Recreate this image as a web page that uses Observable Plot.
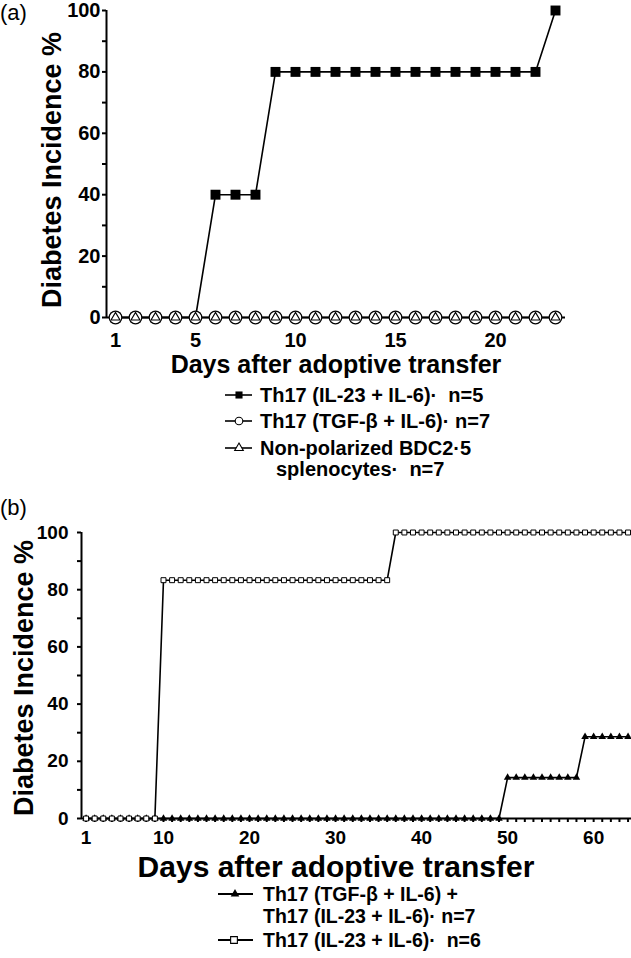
<!DOCTYPE html>
<html><head><meta charset="utf-8">
<script src="https://cdn.jsdelivr.net/npm/d3@7"></script>
<script src="https://cdn.jsdelivr.net/npm/@observablehq/plot@0.6"></script>
<style>
body{margin:0;background:#fff;}
#root{position:relative;width:631px;height:958px;overflow:hidden;background:#fff;}
#root svg.plot{position:absolute;left:0;}
#overlay{position:absolute;left:0;top:0;pointer-events:none;}
</style></head><body><div id="root"></div>
<script>
// ---------- Data: panel (a) ----------
const daysA = [1,2,3,4,5,6,7,8,9,10,11,12,13,14,15,16,17,18,19,20,21,22,23];
const th17IL23_A = [0,0,0,0,0,40,40,40,80,80,80,80,80,80,80,80,80,80,80,80,80,80,100];
const th17TGF_A  = [0,0,0,0,0,0,0,0,0,0,0,0,0,0,0,0,0,0,0,0,0,0,0];
const nonPol_A   = [0,0,0,0,0,0,0,0,0,0,0,0,0,0,0,0,0,0,0,0,0,0,0];
const xTickLabelsA = [1,5,10,15,20];
const xDomainA = [0.55,23.5];

// ---------- Data: panel (b) ----------
const daysB = [1,2,3,4,5,6,7,8,9,10,11,12,13,14,15,16,17,18,19,20,21,22,23,24,25,26,27,28,29,30,31,32,
  33,34,35,36,37,38,39,40,41,42,43,44,45,46,47,48,49,50,51,52,53,54,55,56,57,58,59,60,61,62,63,64];
const mix_B = [0,0,0,0,0,0,0,0,0,0,0,0,0,0,0,0,0,0,0,0,0,0,0,0,0,0,0,0,0,0,0,0,
  0,0,0,0,0,0,0,0,0,0,0,0,0,0,0,0,0,14.29,14.29,14.29,14.29,14.29,14.29,14.29,14.29,14.29,
  28.57,28.57,28.57,28.57,28.57,28.57];
const th17IL23_B = [0,0,0,0,0,0,0,0,0,83.33,83.33,83.33,83.33,83.33,83.33,83.33,83.33,83.33,83.33,83.33,
  83.33,83.33,83.33,83.33,83.33,83.33,83.33,83.33,83.33,83.33,83.33,83.33,83.33,83.33,83.33,83.33,
  100,100,100,100,100,100,100,100,100,100,100,100,100,100,100,100,100,100,100,100,100,100,100,100,100,100,100,100];
const xTickLabelsB = [1,10,20,30,40,50,60];
const xDomainB = [0.47,64.4];

const yDomain = [0,100];
const yMajor = [0,20,40,60,80,100];
const yAll = [0,10,20,30,40,50,60,70,80,90,100];

const legendA = ["Th17 (IL-23 + IL-6)·\u00a0\u00a0n=5", "Th17 (TGF-β + IL-6)·\u00a0n=7", "Non-polarized BDC2·5", "splenocytes·\u00a0\u00a0n=7"];
const legendB = ["Th17 (TGF-β + IL-6) +", "Th17 (IL-23 + IL-6)·\u00a0n=7", "Th17 (IL-23 + IL-6)·\u00a0\u00a0n=6"];

const FONT = "'Liberation Sans', Arial, Helvetica, sans-serif";
const NARROW = "'Liberation Sans Narrow', 'Arial Narrow', 'Liberation Sans', sans-serif";

const tidy = (days, vals) => days.map((d,i)=>({day:d, v:vals[i]}));

function axes(xDomain, xTicks, xLabels, lblPadX, lblPadY, fs) {
  return [
    Plot.axisY({ticks: yAll, tickSize: 4, text: null, label: null, strokeWidth: 2}),
    Plot.axisY({ticks: yMajor, tickSize: 0, tickPadding: lblPadY, label: null, fontSize: fs, fontWeight: "bold"}),
    Plot.axisX({ticks: xTicks, tickSize: 4, text: null, label: null, strokeWidth: 2}),
    Plot.axisX({ticks: xLabels, tickSize: 0, tickPadding: lblPadX, label: null, fontSize: fs, fontWeight: "bold"}),
    Plot.ruleX([xDomain[0]], {stroke: "#000", strokeWidth: 2}),
    Plot.ruleY([yDomain[0]], {stroke: "#000", strokeWidth: 2})
  ];
}

const root = document.getElementById("root");

// ---------- Panel (a) ----------
const A1 = tidy(daysA, th17IL23_A), A2 = tidy(daysA, th17TGF_A), A3 = tidy(daysA, nonPol_A);
const plotA = Plot.plot({
  width: 631, height: 380,
  marginLeft: 106, marginRight: 66, marginTop: 10, marginBottom: 63,
  x: {domain: xDomainA}, y: {domain: yDomain},
  style: {fontFamily: FONT, color: "#000", background: "transparent", overflow: "visible"},
  marks: [
    ...axes(xDomainA, daysA, xTickLabelsA, 15, 6, 20),
    Plot.line(A1, {x: "day", y: "v", stroke: "#000", strokeWidth: 1.6}),
    Plot.dot(A1, {x: "day", y: "v", symbol: "square", r: 5.6, fill: "#000", stroke: "none"}),
    Plot.line(A2, {x: "day", y: "v", stroke: "#000", strokeWidth: 1.6}),
    Plot.dot(A2, {x: "day", y: "v", symbol: "circle", r: 6.3, fill: "#fff", stroke: "#000", strokeWidth: 1.2}),
    Plot.dot(A3, {x: "day", y: "v", symbol: "triangle", r: 3.3, fill: "#fff", stroke: "#000", strokeWidth: 1.1})
  ]
});
plotA.classList.add("plot");
plotA.style.top = "0px";
root.appendChild(plotA);

// ---------- Panel (b) ----------
const B1 = tidy(daysB, mix_B), B2 = tidy(daysB, th17IL23_B);
const plotB = Plot.plot({
  width: 631, height: 400,
  marginLeft: 81, marginRight: 0, marginTop: 52, marginBottom: 62,
  x: {domain: xDomainB}, y: {domain: yDomain},
  style: {fontFamily: FONT, color: "#000", background: "transparent", overflow: "visible"},
  marks: [
    ...axes(xDomainB, daysB, xTickLabelsB, 12, 13, 19),
    Plot.line(B1, {x: "day", y: "v", stroke: "#000", strokeWidth: 1.6}),
    Plot.dot(B1, {x: "day", y: "v", symbol: "triangle", r: 2.8, fill: "#000", stroke: "none"}),
    Plot.line(B2, {x: "day", y: "v", stroke: "#000", strokeWidth: 1.6}),
    Plot.dot(B2, {x: "day", y: "v", symbol: "square", r: 2.8, fill: "#fff", stroke: "#000", strokeWidth: 1})
  ]
});
plotB.classList.add("plot");
plotB.style.top = "480px";
root.appendChild(plotB);

// ---------- Overlay: panel letters, axis titles, legends ----------
const ov = d3.select(root).append("svg").attr("id","overlay").attr("width",631).attr("height",958);
function txt(s, x, y, size, weight, anchor, rotate, family) {
  const t = ov.append("text").text(s).attr("font-family", family || FONT)
    .attr("font-size", size).attr("font-weight", weight).attr("text-anchor", anchor || "start").attr("fill","#000");
  if (rotate) t.attr("transform", `translate(${x},${y}) rotate(-90)`);
  else t.attr("x", x).attr("y", y);
  return t;
}
txt("(a)", 0, 20, 22, "normal");
txt("(b)", 0, 515, 22, "normal");
txt("Days after adoptive transfer", 336, 373, 25, "bold", "middle");
txt("Diabetes Incidence %", 61, 170, 27, "bold", "middle", true);
txt("Days after adoptive transfer", 336, 876.5, 30, "bold", "middle");
txt("Diabetes Incidence %", 33, 678, 27, "bold", "middle", true);

function legendSwatch(x0, x1, cx, cy, symbol, r, fill, sw) {
  ov.append("line").attr("x1",x0).attr("x2",x1).attr("y1",cy).attr("y2",cy).attr("stroke","#000").attr("stroke-width", sw||1.6);
  const sym = d3.symbol().type(symbol).size(Math.PI*r*r);
  ov.append("path").attr("d", sym()).attr("transform",`translate(${cx},${cy})`)
    .attr("fill", fill).attr("stroke", fill === "#000" ? "none" : "#000").attr("stroke-width", 1.1);
}
// legend (a)
const LFS = 20, LFSB = 19.5;
legendSwatch(225, 252, 239, 395, d3.symbolSquare, 4, "#000");
txt(legendA[0], 260, 402, LFS, "bold", "start", false, NARROW);
legendSwatch(225, 252, 239, 421, d3.symbolCircle, 3.8, "#fff");
txt(legendA[1], 260, 428, LFS, "bold", "start", false, NARROW);
legendSwatch(225, 252, 239, 448, d3.symbolTriangle, 3.2, "#fff");
txt(legendA[2], 260, 455, LFS, "bold", "start", false, NARROW);
txt(legendA[3], 276, 476, LFS, "bold", "start", false, NARROW);
// legend (b)
legendSwatch(218, 253, 235, 894, d3.symbolTriangle, 3.2, "#000", 2);
txt(legendB[0], 263, 901, LFSB, "bold", "start", false, NARROW);
txt(legendB[1], 263, 923, LFSB, "bold", "start", false, NARROW);
legendSwatch(218, 253, 234, 940, d3.symbolSquare, 3.8, "#fff", 2);
txt(legendB[2], 263, 947, LFSB, "bold", "start", false, NARROW);
</script></body></html>
